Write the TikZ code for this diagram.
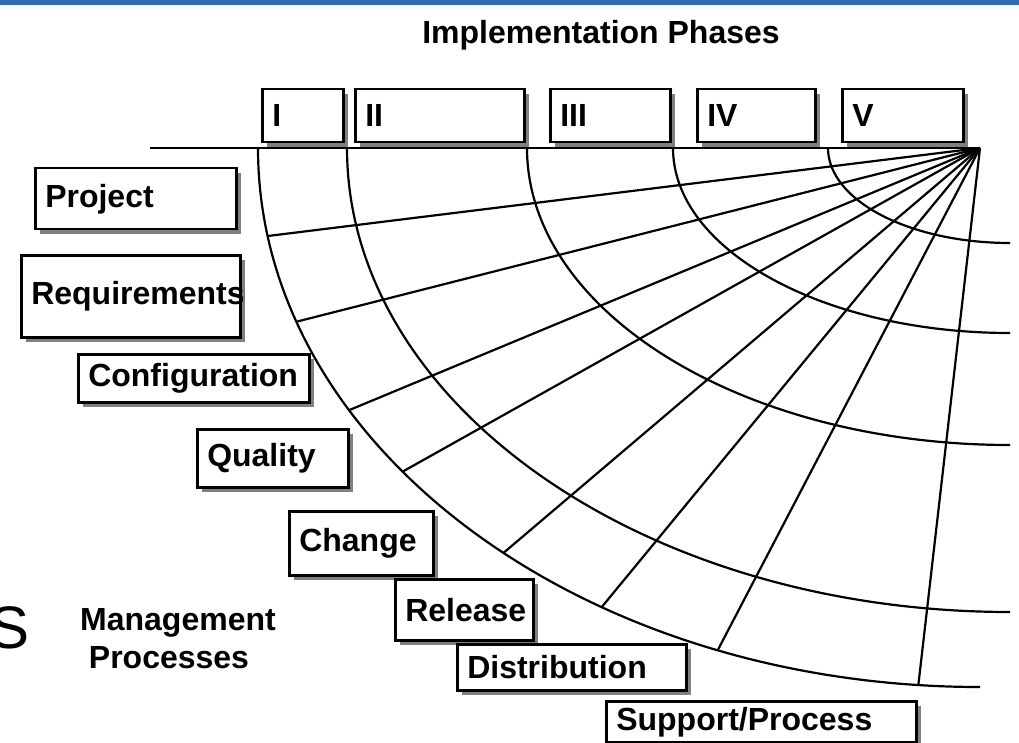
\documentclass[tikz,border=0pt]{standalone}
\usepackage{fontspec}
\setmainfont{Liberation Sans}
\usetikzlibrary{shadows}
\definecolor{banner}{RGB}{52,108,168}

\begin{document}
\begin{tikzpicture}
    [ font=\bfseries\fontsize{32}{36}\selectfont, x=1pt, y=-1pt,
      grid/.style={line width=2.2pt},
      labelbox/.style={draw, line width=2.5pt, fill=white, anchor=north west,
                       inner xsep=10pt, inner ysep=0pt, align=left,
                       drop shadow={shadow xshift=5pt, shadow yshift=-5pt,
                                    fill=gray, opacity=1}},
    ]
    \useasboundingbox (0,0) rectangle (1019,743);
    \fill[banner] (0,0) rectangle (1019,5);

    \node[anchor=base] (title) at (601,44) {Implementation Phases};

    % phases
    \node[labelbox, minimum width=81, minimum height=53, text width=61pt] (ph1) at (261,88) {I};
    \node[labelbox, minimum width=169, minimum height=53, text width=149pt] (ph2) at (354,88) {II};
    \node[labelbox, minimum width=120, minimum height=53, text width=100pt] (ph3) at (549,88) {III};
    \node[labelbox, minimum width=118, minimum height=53, text width=98pt] (ph4) at (696,88) {IV};
    \node[labelbox, minimum width=121, minimum height=53, text width=101pt] (ph5) at (841,88) {V};

    \coordinate (O) at (980,148);
    \draw[grid] (150,148) -- (O);

    \draw[grid] (258,148) arc[start angle=180, end angle=90, x radius=722, y radius=539];
    \foreach \sx / \ry in {347/464, 527/297, 673/185, 828/95} {
        \draw[grid] (\sx,148) arc[start angle=180, end angle=90,
                                  x radius=1010-\sx, y radius=\ry];
    }
    \foreach \a in {170.6, 161.2, 150.9, 143.1, 131.3, 121.6, 111.3, 94.9} {
        \draw[grid] (O) -- ++(\a:722 and 539);
    }

    % processes
    \node[labelbox, minimum width=201, minimum height=61, text width=181pt] (project) at (34,167) {Project};
    \node[labelbox, minimum width=219, minimum height=82, text width=199pt] (require) at (20,254) {Requirements};
    \node[labelbox, minimum width=231, minimum height=48, text width=211pt] (config) at (77,353) {Configuration};
    \node[labelbox, minimum width=151, minimum height=58, text width=131pt] (quality) at (196,428) {Quality};
    \node[labelbox, minimum width=144, minimum height=64, text width=124pt] (change) at (288,510) {Change};
    \node[labelbox, minimum width=138, minimum height=61, text width=118pt] (release) at (394,578) {Release};
    \node[labelbox, minimum width=229, minimum height=46, text width=209pt] (distrib) at (456,643) {Distribution};
    \node[labelbox, minimum width=310, minimum height=41, text width=290pt] (support) at (605,700) {Support/Process};

    \node[anchor=base] (mgmt) at (178,630) {Management};
    \node[anchor=base] (procs) at (169,668) {Processes};
    \node[font=\fontsize{60}{60}\selectfont, anchor=base east, inner sep=0pt] (cut) at (30,648) {S};
\end{tikzpicture}
\end{document}
